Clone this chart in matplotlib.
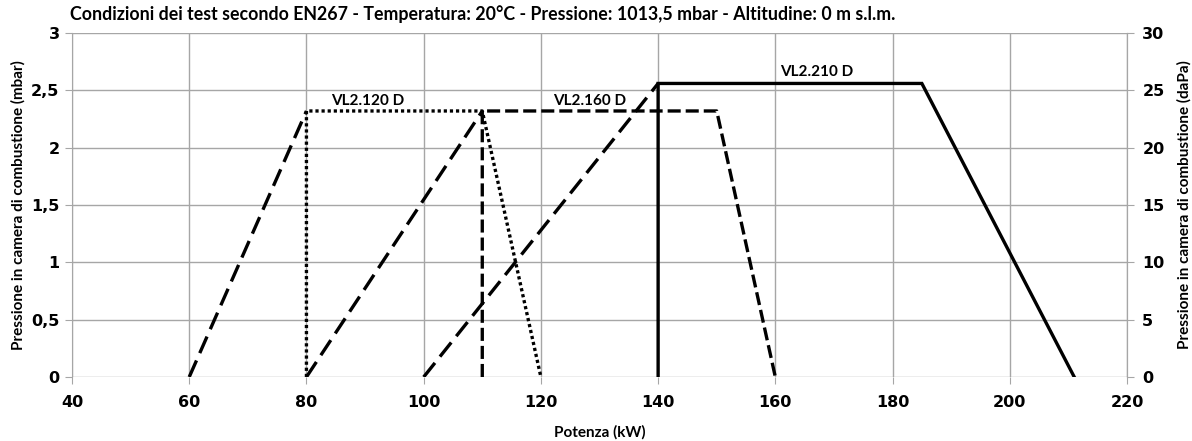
import matplotlib
matplotlib.use('Agg')
import matplotlib.pyplot as plt

plt.rcParams['lines.scale_dashes'] = False

# working fields (kW, mbar)
start_120_x = [60, 80]
start_120_y = [0, 2.32]
field_120_x = [80, 80, 110, 120]
field_120_y = [0, 2.32, 2.32, 0]

start_160_x = [80, 110]
start_160_y = [0, 2.32]
field_160_x = [110, 110, 150, 160]
field_160_y = [0, 2.32, 2.32, 0]

start_210_x = [100, 140]
start_210_y = [0, 2.56]
field_210_x = [140, 140, 185, 211]
field_210_y = [0, 2.56, 2.56, 0]

labels = ['VL2.120 D', 'VL2.160 D', 'VL2.210 D']
label_x = [90.5, 128.3, 167]
label_y = [2.41, 2.41, 2.66]

xticks = [40, 60, 80, 100, 120, 140, 160, 180, 200, 220]
yticks = [0, 0.5, 1, 1.5, 2, 2.5, 3]
yticklabels = ['0', '0,5', '1', '1,5', '2', '2,5', '3']
y2ticks = [0, 5, 10, 15, 20, 25, 30]

title = ('Condizioni dei test secondo EN267 - Temperatura: 20°C - '
         'Pressione: 1013,5 mbar - Altitudine: 0 m s.l.m.')

tick_font = dict(family=['Liberation Sans Narrow', 'DejaVu Sans'],
                 weight='bold', size=11.5)
lab_font = dict(family=['Lato', 'DejaVu Sans'], weight='bold', size=11)

fig = plt.figure(figsize=(11.92, 4.41), dpi=100)
ax = fig.add_axes([72 / 1192, 64 / 441, 1055 / 1192, 344 / 441])

grid_c = '#a6a6a6'
lw = 2.4
ax.plot(start_120_x, start_120_y, color='black', lw=lw, dashes=(13, 5.8))
ax.plot(start_160_x, start_160_y, color='black', lw=lw, dashes=(13, 5.8))
ax.plot(start_210_x, start_210_y, color='black', lw=lw, dashes=(13, 5.8))
ax.plot(field_120_x, field_120_y, color='black', lw=lw, dashes=(2.3, 2.1), dash_capstyle='butt')
ax.plot(field_160_x, field_160_y, color='black', lw=lw, dashes=(9.4, 3.6), dash_capstyle='butt')
ax.plot(field_210_x, field_210_y, color='black', lw=lw, solid_joinstyle='miter')

for t, x, y in zip(labels, label_x, label_y):
    ax.text(x, y, t, ha='center', va='center', color='black',
            fontfamily=['Lato', 'DejaVu Sans'], fontweight='bold', fontsize=11)

ax.set_xlim(40, 220)
ax.set_ylim(0, 3)
ax.set_xticks(xticks)
ax.set_yticks(yticks)
ax.set_yticklabels(yticklabels)
ax.grid(True, color=grid_c, lw=1)
ax.set_axisbelow(True)
for s in ['top', 'bottom']:
    ax.spines[s].set_visible(False)
for s in ['left', 'right']:
    ax.spines[s].set_color(grid_c)
ax.tick_params(axis='both', color=grid_c, length=5, pad=4)
for lab in ax.get_xticklabels() + ax.get_yticklabels():
    lab.set_fontfamily(tick_font['family'])
    lab.set_fontweight('bold')
    lab.set_fontsize(tick_font['size'])
ax.tick_params(axis='x', pad=8)

ax2 = ax.twinx()
ax2.set_ylim(0, 30)
ax2.set_yticks(y2ticks)
for s in ['top', 'bottom', 'left']:
    ax2.spines[s].set_visible(False)
ax2.spines['right'].set_color(grid_c)
ax2.tick_params(axis='y', color=grid_c, length=5, pad=6)
for lab in ax2.get_yticklabels():
    lab.set_fontfamily(tick_font['family'])
    lab.set_fontweight('bold')
    lab.set_fontsize(tick_font['size'])

ax.set_xlabel('Potenza (kW)', labelpad=11, **lab_font)
ax.set_ylabel('Pressione in camera di combustione (mbar)', labelpad=4, **lab_font)
ax2.set_ylabel('Pressione in camera di combustione (daPa)', labelpad=9, **lab_font)
fig.text(70 / 1192, 1 - 14 / 441, title, ha='left', va='center',
         family=['Lato', 'DejaVu Sans'], weight='bold', size=12.8)

fig.savefig('out.png', dpi=100)
